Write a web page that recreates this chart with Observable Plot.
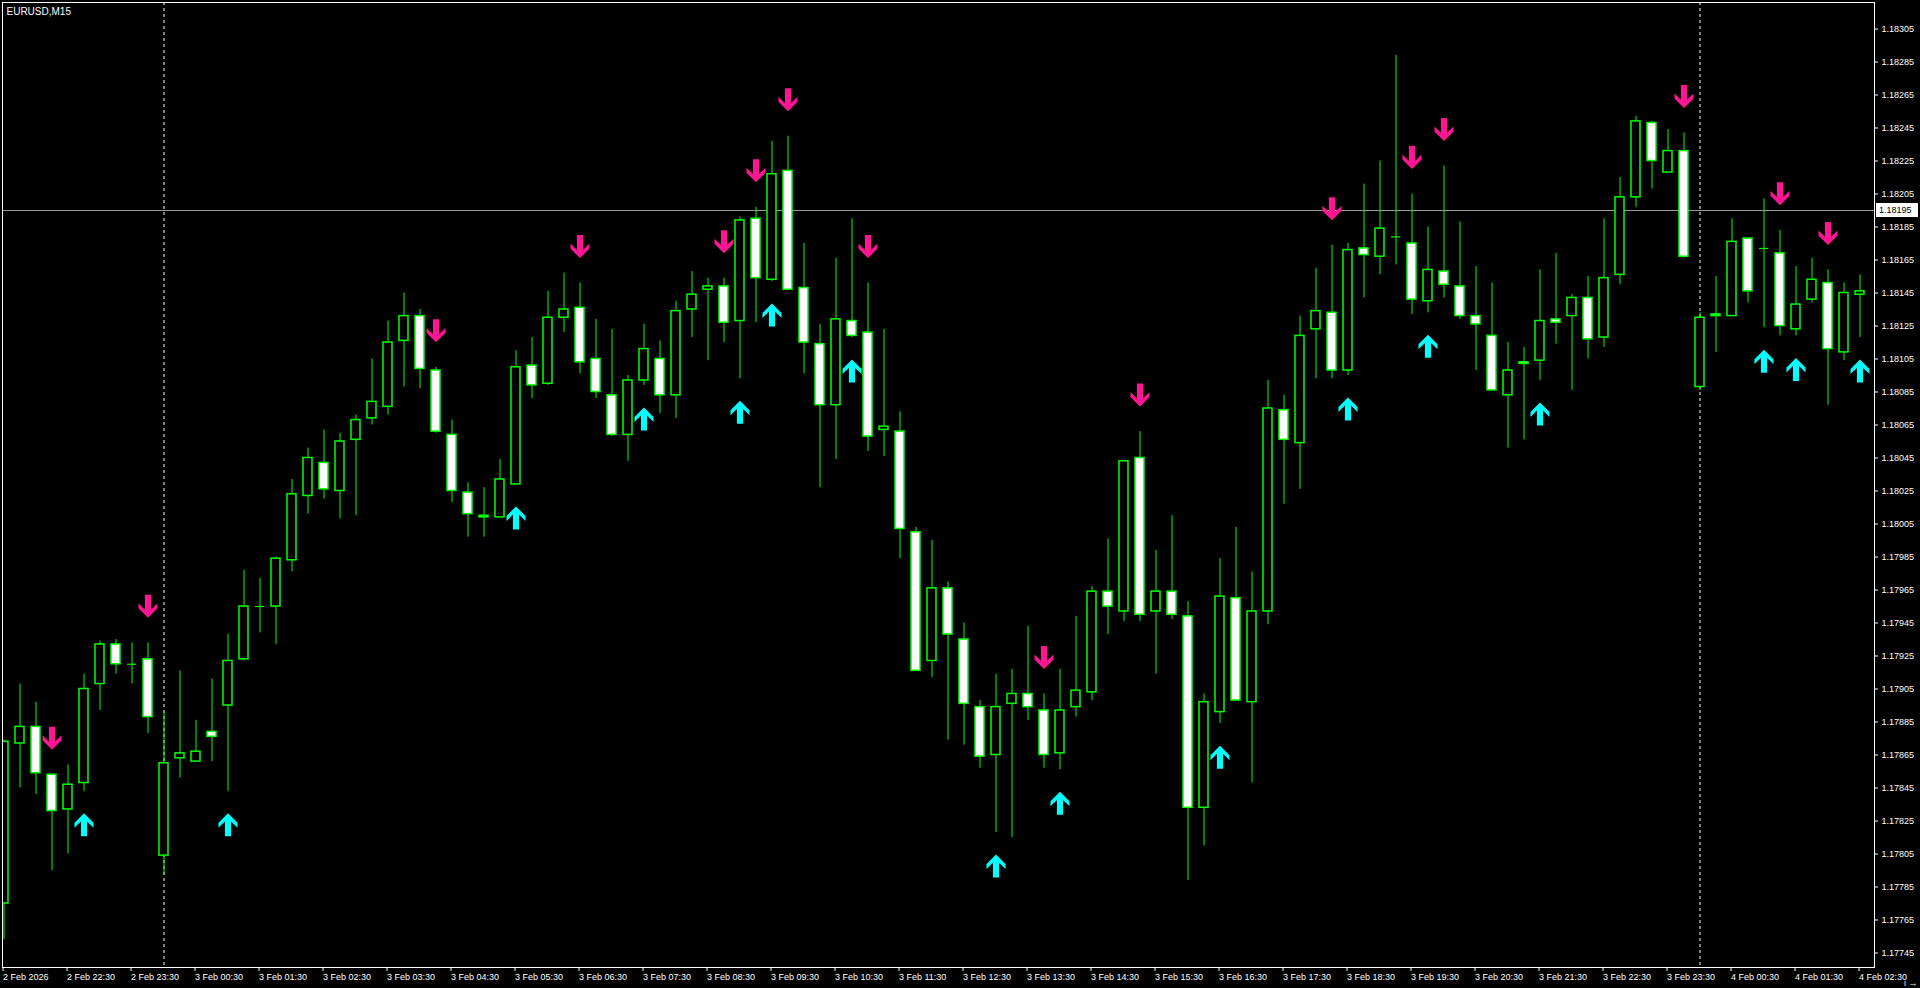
<!DOCTYPE html>
<html>
<head>
<meta charset="utf-8">
<script src="https://cdn.jsdelivr.net/npm/d3@7"></script>
<script src="https://cdn.jsdelivr.net/npm/@observablehq/plot@0.6"></script>
<style>
  html, body { margin: 0; padding: 0; background: #000; overflow: hidden; }
  #chart svg { display: block; }
</style>
</head>
<body>
<div id="chart"></div>
<script>
// ---- Data (EURUSD, M15, 2 Feb 2026 21:30 → 4 Feb 2026 02:30) ----
const symbolLabel = "EURUSD,M15";

const open = [
  1.17775, 1.17872, 1.17882, 1.17853, 1.17832, 1.17848, 1.17908, 1.17932, 1.17920, 1.17923,
  1.17804, 1.17863, 1.17861, 1.17879, 1.17895, 1.17923, 1.17955, 1.17955, 1.17983, 1.18022,
  1.18042, 1.18025, 1.18056, 1.18069, 1.18076, 1.18116, 1.18131, 1.18098, 1.18059, 1.18024,
  1.18010, 1.18009, 1.18029, 1.18101, 1.18090, 1.18130, 1.18136, 1.18105, 1.18083, 1.18059,
  1.18092, 1.18105, 1.18083, 1.18135, 1.18147, 1.18149, 1.18128, 1.18190, 1.18153, 1.18219,
  1.18148, 1.18114, 1.18077, 1.18128, 1.18121, 1.18062, 1.18061, 1.18000, 1.17922, 1.17966,
  1.17935, 1.17894, 1.17865, 1.17896, 1.17902, 1.17892, 1.17866, 1.17894, 1.17903, 1.17964,
  1.17952, 1.18045, 1.17952, 1.17964, 1.17949, 1.17833, 1.17891, 1.17960, 1.17897, 1.17952,
  1.18074, 1.18054, 1.18123, 1.18133, 1.18098, 1.18172, 1.18167, 1.18179, 1.18175, 1.18140,
  1.18158, 1.18149, 1.18131, 1.18119, 1.18083, 1.18103, 1.18104, 1.18129, 1.18131, 1.18142,
  1.18118, 1.18156, 1.18203, 1.18248, 1.18218, 1.18231, 1.18088, 1.18132, 1.18131, 1.18178,
  1.18172, 1.18169, 1.18123, 1.18141, 1.18151, 1.18109, 1.18144
];
const high = [
  1.17874, 1.17908, 1.17897, 1.17853, 1.17859, 1.17914, 1.17934, 1.17935, 1.17933, 1.17933,
  1.17891, 1.17916, 1.17886, 1.17911, 1.17938, 1.17977, 1.17972, 1.17985, 1.18032, 1.18051,
  1.18062, 1.18060, 1.18071, 1.18105, 1.18128, 1.18145, 1.18135, 1.18100, 1.18068, 1.18030,
  1.18027, 1.18044, 1.18110, 1.18118, 1.18146, 1.18157, 1.18151, 1.18129, 1.18123, 1.18095,
  1.18126, 1.18116, 1.18140, 1.18158, 1.18154, 1.18154, 1.18191, 1.18197, 1.18237, 1.18240,
  1.18175, 1.18126, 1.18166, 1.18190, 1.18151, 1.18123, 1.18073, 1.18003, 1.17995, 1.17970,
  1.17945, 1.17898, 1.17914, 1.17917, 1.17943, 1.17902, 1.17917, 1.17949, 1.17967, 1.17996,
  1.18043, 1.18061, 1.17989, 1.18010, 1.17958, 1.17902, 1.17984, 1.18003, 1.17976, 1.18092,
  1.18083, 1.18131, 1.18160, 1.18174, 1.18175, 1.18211, 1.18225, 1.18289, 1.18205, 1.18185,
  1.18222, 1.18188, 1.18161, 1.18151, 1.18115, 1.18112, 1.18159, 1.18169, 1.18144, 1.18155,
  1.18190, 1.18215, 1.18252, 1.18249, 1.18244, 1.18242, 1.18133, 1.18155, 1.18190, 1.18178,
  1.18202, 1.18183, 1.18161, 1.18166, 1.18159, 1.18151, 1.18156
];
const low = [
  1.17753, 1.17845, 1.17841, 1.17795, 1.17805, 1.17843, 1.17892, 1.17914, 1.17908, 1.17878,
  1.17792, 1.17851, 1.17861, 1.17861, 1.17843, 1.17922, 1.17939, 1.17932, 1.17976, 1.18011,
  1.18020, 1.18008, 1.18010, 1.18065, 1.18071, 1.18088, 1.18087, 1.18060, 1.18018, 1.17997,
  1.17997, 1.18009, 1.18029, 1.18081, 1.18089, 1.18121, 1.18096, 1.18081, 1.18058, 1.18043,
  1.18089, 1.18072, 1.18069, 1.18118, 1.18104, 1.18115, 1.18093, 1.18127, 1.18152, 1.18147,
  1.18096, 1.18027, 1.18044, 1.18118, 1.18049, 1.18046, 1.17984, 1.17916, 1.17912, 1.17874,
  1.17871, 1.17857, 1.17818, 1.17815, 1.17886, 1.17857, 1.17856, 1.17888, 1.17898, 1.17938,
  1.17946, 1.17946, 1.17914, 1.17947, 1.17789, 1.17810, 1.17884, 1.17898, 1.17848, 1.17944,
  1.18017, 1.18026, 1.18093, 1.18093, 1.18095, 1.18142, 1.18156, 1.18162, 1.18132, 1.18133,
  1.18142, 1.18129, 1.18098, 1.18086, 1.18051, 1.18056, 1.18092, 1.18114, 1.18086, 1.18105,
  1.18112, 1.18150, 1.18197, 1.18208, 1.18218, 1.18166, 1.18086, 1.18109, 1.18131, 1.18139,
  1.18124, 1.18119, 1.18119, 1.18139, 1.18077, 1.18104, 1.18118
];
const close = [
  1.17873, 1.17882, 1.17854, 1.17831, 1.17847, 1.17905, 1.17932, 1.17920, 1.17920, 1.17888,
  1.17860, 1.17866, 1.17867, 1.17876, 1.17922, 1.17955, 1.17955, 1.17984, 1.18023, 1.18045,
  1.18026, 1.18055, 1.18068, 1.18079, 1.18115, 1.18131, 1.18099, 1.18061, 1.18025, 1.18011,
  1.18009, 1.18032, 1.18100, 1.18089, 1.18130, 1.18135, 1.18103, 1.18085, 1.18059, 1.18092,
  1.18111, 1.18083, 1.18134, 1.18144, 1.18149, 1.18127, 1.18189, 1.18154, 1.18217, 1.18147,
  1.18115, 1.18077, 1.18129, 1.18119, 1.18058, 1.18064, 1.18002, 1.17916, 1.17966, 1.17938,
  1.17896, 1.17864, 1.17894, 1.17902, 1.17894, 1.17865, 1.17892, 1.17904, 1.17964, 1.17955,
  1.18043, 1.17950, 1.17964, 1.17950, 1.17833, 1.17897, 1.17961, 1.17898, 1.17952, 1.18075,
  1.18056, 1.18119, 1.18134, 1.18098, 1.18171, 1.18168, 1.18184, 1.18179, 1.18141, 1.18159,
  1.18150, 1.18131, 1.18126, 1.18086, 1.18098, 1.18102, 1.18128, 1.18127, 1.18142, 1.18117,
  1.18154, 1.18203, 1.18249, 1.18225, 1.18231, 1.18167, 1.18130, 1.18131, 1.18176, 1.18146,
  1.18172, 1.18125, 1.18138, 1.18153, 1.18111, 1.18145, 1.18146
];

// Signal arrows (bar indices)
const sellSignals = [3, 9, 27, 36, 45, 47, 49, 54, 65, 71, 83, 88, 90, 105, 111, 114];
const buySignals  = [5, 14, 32, 40, 46, 48, 53, 62, 66, 76, 84, 89, 96, 110, 112, 116];

// Day separators (bar index of 00:00)
const daySeparators = [10, 106];

// Horizontal price line
const priceLine = 1.18195;

// Axis ticks / labels
const xTickBars = [0,4,8,12,16,20,24,28,32,36,40,44,48,52,56,60,64,68,72,76,80,84,88,92,96,100,104,108,112,116];
const xTickLabels = [
  "2 Feb 2026", "2 Feb 22:30", "2 Feb 23:30", "3 Feb 00:30", "3 Feb 01:30", "3 Feb 02:30",
  "3 Feb 03:30", "3 Feb 04:30", "3 Feb 05:30", "3 Feb 06:30", "3 Feb 07:30", "3 Feb 08:30",
  "3 Feb 09:30", "3 Feb 10:30", "3 Feb 11:30", "3 Feb 12:30", "3 Feb 13:30", "3 Feb 14:30",
  "3 Feb 15:30", "3 Feb 16:30", "3 Feb 17:30", "3 Feb 18:30", "3 Feb 19:30", "3 Feb 20:30",
  "3 Feb 21:30", "3 Feb 22:30", "3 Feb 23:30", "4 Feb 00:30", "4 Feb 01:30", "4 Feb 02:30"
];
const yTicks = [
  1.17745, 1.17765, 1.17785, 1.17805, 1.17825, 1.17845, 1.17865, 1.17885, 1.17905, 1.17925,
  1.17945, 1.17965, 1.17985, 1.18005, 1.18025, 1.18045, 1.18065, 1.18085, 1.18105, 1.18125,
  1.18145, 1.18165, 1.18185, 1.18205, 1.18225, 1.18245, 1.18265, 1.18285, 1.18305
];

// ---- Build table ----
const bars = open.map((o, i) => ({ i, open: o, high: high[i], low: low[i], close: close[i] }));
const dojis = bars.filter(d => d.open === d.close);
const sells = sellSignals.map(i => bars[i]);
const buys = buySignals.map(i => bars[i]);

const GREEN = "#00ff00";
const HALF = 0.28125; // half body width in bar units

function arrowSymbol(dir) {
  const pts = [[0,-11.5],[9.5,-2],[9.5,3],[3.1,-3.4],[3.1,11.5],[-3.1,11.5],[-3.1,-3.4],[-9.5,3],[-9.5,-2]];
  return {
    draw(context, size) {
      const s = Math.sqrt(size / Math.PI) / 11.5;
      pts.forEach(([x, y], k) => {
        const px = x * s, py = dir * y * s;
        if (k === 0) context.moveTo(px, py); else context.lineTo(px, py);
      });
      context.closePath();
    }
  };
}

const fmt = d3.format(".5f");

const chart = Plot.plot({
  width: 1920,
  height: 988,
  marginLeft: 2,
  marginRight: 46,
  marginTop: 2,
  marginBottom: 21,
  style: {
    background: "#000",
    color: "#fff",
    fontFamily: "'Liberation Sans', Arial, sans-serif",
    fontSize: "9px"
  },
  x: { type: "linear", domain: [-0.09375, 116.90625] },
  y: { type: "linear", domain: [1.1773621, 1.1832106] },
  marks: [
    Plot.ruleX(daySeparators, { x: d => d, stroke: "#fff", strokeWidth: 1, strokeDasharray: "3,3" }),
    Plot.ruleY([priceLine], { y: d => d, stroke: "#9a9a9a", strokeWidth: 1 }),
    Plot.ruleX(bars, { x: "i", y1: "low", y2: "high", stroke: GREEN, strokeWidth: 1, clip: true }),
    Plot.rect(bars, {
      x1: d => d.i - HALF, x2: d => d.i + HALF,
      y1: "open", y2: "close",
      fill: d => d.close < d.open ? "#fff" : "#000",
      stroke: GREEN, strokeWidth: 1.5, clip: true
    }),
    Plot.ruleY(dojis, { y: "open", x1: d => d.i - HALF, x2: d => d.i + HALF, stroke: GREEN, strokeWidth: 1.2 }),
    Plot.dot(sells, { x: "i", y: "high", dy: -36.5, r: 11.5, symbol: arrowSymbol(-1), fill: "#ff1493", stroke: "none" }),
    Plot.dot(buys, { x: "i", y: "low", dy: 33.5, r: 11.5, symbol: arrowSymbol(1), fill: "#00ffff", stroke: "none" }),
    Plot.text([symbolLabel], { text: d => d, frameAnchor: "top-left", dx: 4, dy: 5, fill: "#fff", fontSize: 10, textAnchor: "start" }),
    Plot.axisX({
      ticks: xTickBars,
      tickFormat: i => xTickLabels[xTickBars.indexOf(i)],
      tickSize: 4, tickPadding: 2, textAnchor: "start", dx: -1,
      stroke: "#fff", fill: "#fff", fontSize: 9
    }),
    Plot.axisY({
      anchor: "right",
      ticks: yTicks,
      tickFormat: fmt,
      tickSize: 3, tickPadding: 4,
      stroke: "#fff", fill: "#fff", fontSize: 9
    }),
    Plot.frame({ stroke: "#fff", strokeWidth: 1 })
  ]
});

document.getElementById("chart").appendChild(chart);

// Price label on the axis
const yPos = chart.scale("y").apply(priceLine);
const g = d3.select(chart).append("g");
g.append("rect")
  .attr("x", 1876).attr("y", yPos - 7).attr("width", 42).attr("height", 14)
  .attr("fill", "#fff");
g.append("text")
  .attr("x", 1879).attr("y", yPos).attr("dy", "0.34em")
  .attr("text-anchor", "start")
  .attr("fill", "#000")
  .attr("font-family", "'Liberation Sans', Arial, sans-serif")
  .attr("font-size", 9)
  .text(fmt(priceLine));
</script>
</body>
</html>
